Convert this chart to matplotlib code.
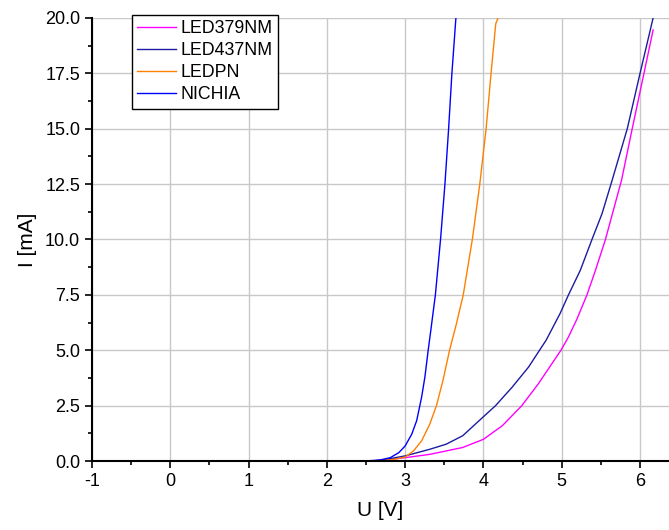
import matplotlib
matplotlib.use('Agg')
import matplotlib.pyplot as plt
from matplotlib.ticker import MultipleLocator, FormatStrFormatter

plt.rcParams['font.family'] = ['Liberation Sans', 'DejaVu Sans']
plt.rcParams['axes.unicode_minus'] = False

# LED379NM (magenta)
u_379 = [-1, 2.0, 2.4, 2.685, 3.0, 3.315, 3.735, 4.0, 4.24, 4.49, 4.70, 4.99, 5.086, 5.193,
         5.322, 5.43, 5.558, 5.764, 5.90, 6.05, 6.167]
i_379 = [0, 0, 0, 0.02, 0.15, 0.30, 0.61, 0.98, 1.59, 2.5, 3.48, 5.0, 5.6, 6.4,
         7.5, 8.6, 10.0, 12.68, 15.0, 17.5, 19.46]

# LED437NM (navy)
u_437 = [-1, 2.0, 2.4, 2.685, 3.0, 3.315, 3.525, 3.735, 4.0, 4.155, 4.366, 4.576, 4.744, 4.80,
         4.979, 5.086, 5.236, 5.386, 5.515, 5.644, 5.837, 6.0, 6.167]
i_437 = [0, 0, 0, 0.03, 0.23, 0.53, 0.76, 1.14, 2.0, 2.5, 3.33, 4.24, 5.15, 5.45,
         6.66, 7.5, 8.6, 10.0, 11.17, 12.68, 15.0, 17.5, 20.0]

# LEDPN (orange)
u_pn = [-1, 2.0, 2.5, 2.7, 2.85, 3.0, 3.105, 3.21, 3.315, 3.40, 3.483, 3.567, 3.655, 3.742,
        3.86, 3.953, 4.034, 4.097, 4.157, 4.186]
i_pn = [0, 0, 0, 0.02, 0.07, 0.18, 0.45, 0.91, 1.67, 2.5, 3.64, 5.0, 6.2, 7.5,
        10.05, 12.5, 15.0, 17.5, 19.74, 20.0]

# NICHIA (blue)
u_nichia = [-1, 2.0, 2.45, 2.6, 2.685, 2.81, 2.92, 3.0, 3.084, 3.147, 3.21, 3.252, 3.294, 3.324,
            3.386, 3.453, 3.508, 3.555, 3.597, 3.648]
i_nichia = [0, 0, 0, 0.02, 0.05, 0.15, 0.38, 0.68, 1.21, 1.82, 2.88, 3.79, 5.0, 5.8,
            7.5, 10.05, 12.5, 15.0, 17.5, 20.0]

fig = plt.figure(figsize=(6.69, 5.30), dpi=100)
ax = fig.add_axes([92 / 669, 1 - 461 / 530, 1 - 92 / 669, (461 - 18) / 530])

ax.plot(u_379, i_379, color='#FF00FF', lw=1, label='LED379NM')
ax.plot(u_437, i_437, color='#1C1CA0', lw=1, label='LED437NM')
ax.plot(u_pn, i_pn, color='#FF8000', lw=1, label='LEDPN')
ax.plot(u_nichia, i_nichia, color='#0000FF', lw=1, label='NICHIA')

ax.set_xlim(-1, 6.37)
ax.set_ylim(0, 20)
ax.xaxis.set_major_locator(MultipleLocator(1))
ax.xaxis.set_minor_locator(MultipleLocator(0.5))
ax.yaxis.set_major_locator(MultipleLocator(2.5))
ax.yaxis.set_minor_locator(MultipleLocator(1.25))
ax.yaxis.set_major_formatter(FormatStrFormatter('%.1f'))

ax.grid(True, which='major', color='#c8c8c8', lw=1)
ax.set_axisbelow(True)
for s in ['top', 'right']:
    ax.spines[s].set_visible(False)
for s in ['left', 'bottom']:
    ax.spines[s].set_linewidth(1.5)
ax.tick_params(which='major', direction='out', length=5, width=1.2, labelsize=13)
ax.tick_params(which='minor', direction='out', length=3, width=1.2)

ax.set_xlabel('U [V]', fontsize=15, labelpad=8)
ax.set_ylabel('I [mA]', fontsize=15, labelpad=6)

leg = ax.legend(loc='upper left', bbox_to_anchor=(132 / 669, 1 - 15 / 530),
                bbox_transform=fig.transFigure, fontsize=12.8, frameon=True,
                fancybox=False, framealpha=1, edgecolor='black',
                handlelength=2.2, handletextpad=0.25, labelspacing=0.28,
                borderpad=0.3, borderaxespad=0)
leg.get_frame().set_linewidth(1.0)

fig.savefig('out.png', dpi=100)
